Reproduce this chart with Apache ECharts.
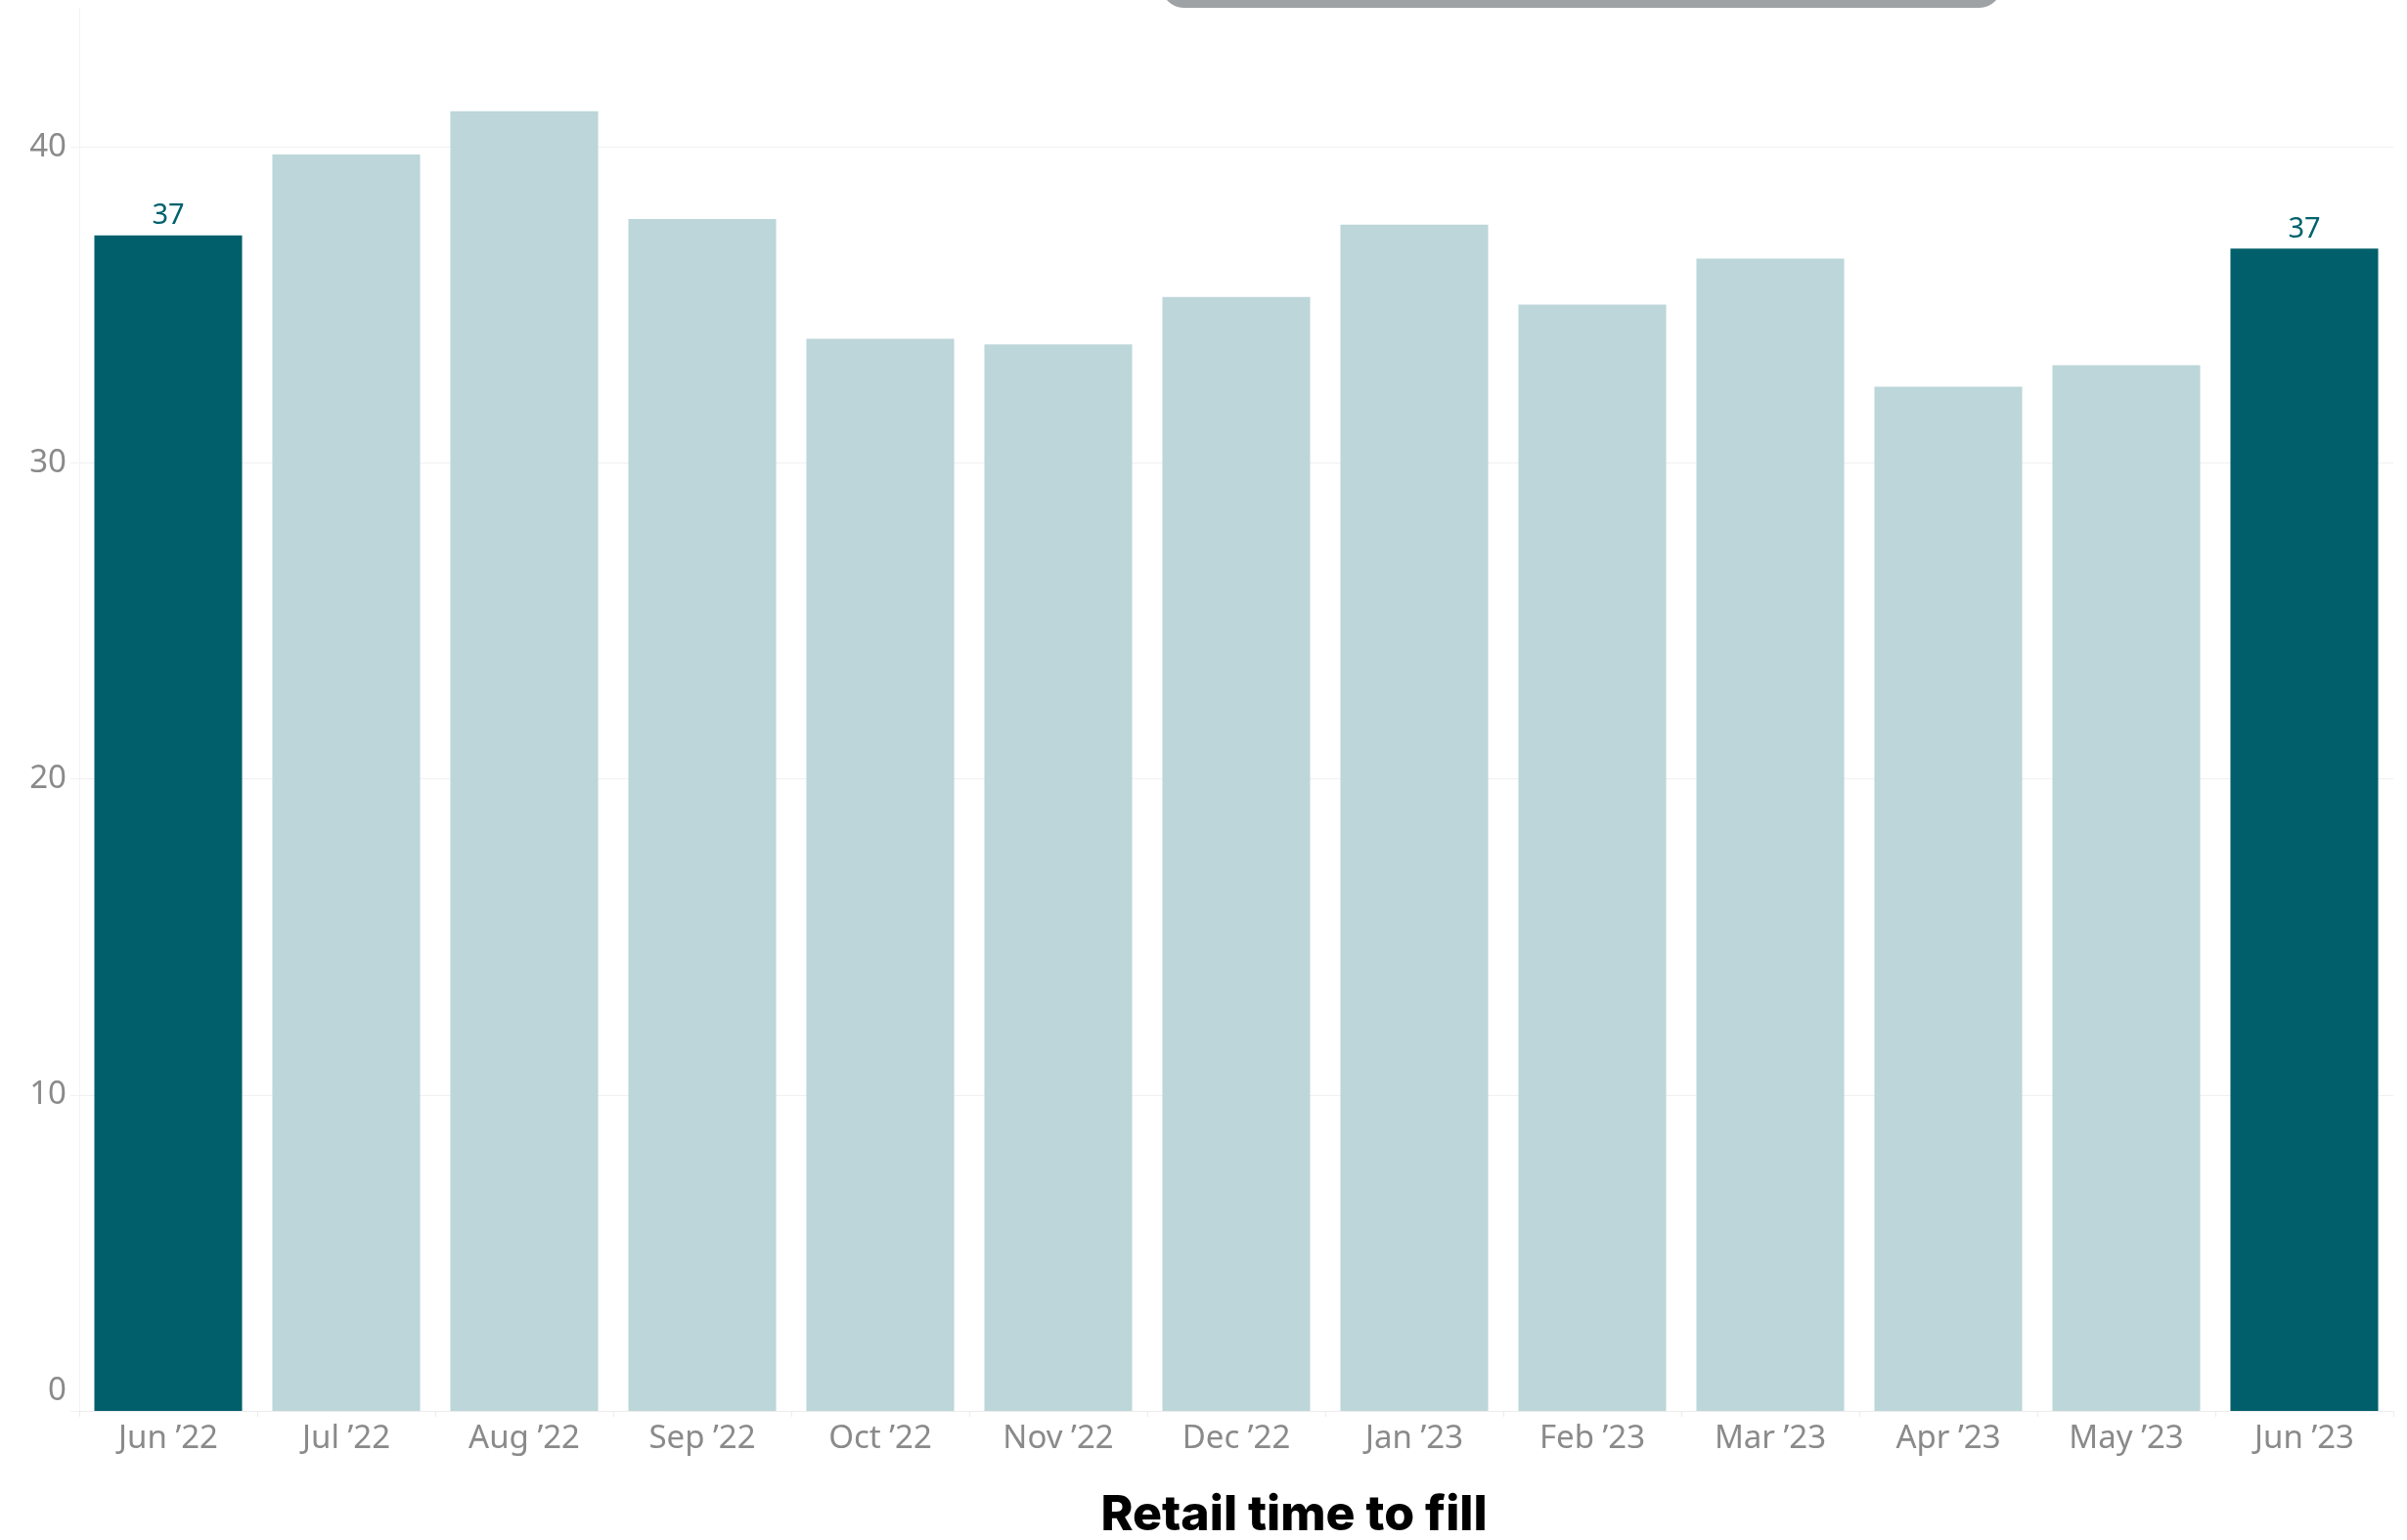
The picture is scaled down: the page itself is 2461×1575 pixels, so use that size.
<!DOCTYPE html>
<html>
<head>
<meta charset="utf-8">
<title>Retail time to fill</title>
<script src="https://cdn.jsdelivr.net/npm/echarts@6/dist/echarts.min.js"></script>
<style>
    html, body { margin: 0; padding: 0; background: #fff; }
    #chart { width: 2461px; height: 1575px; }
</style>
</head>
<body>
<div id="chart"></div>
<script>
// months on the x axis
var months = ['Jun ’22', 'Jul ’22', 'Aug ’22', 'Sep ’22', 'Oct ’22', 'Nov ’22', 'Dec ’22',
    'Jan ’23', 'Feb ’23', 'Mar ’23', 'Apr ’23', 'May ’23', 'Jun ’23'];
// days to fill a retail position
var timeToFill = [37.2, 39.76, 41.13, 37.72, 33.93, 33.75, 35.25, 37.54, 35.01, 36.46, 32.41, 33.09, 36.78];
// bars drawn dark and labelled (first and last month)
var highlighted = [true, false, false, false, false, false, false, false, false, false, false, false, true];
var yTicks = [0, 10, 20, 30, 40];

var darkColor = '#005f6b';
var lightColor = '#bcd6d9';

var barData = timeToFill.map(function (v, i) {
    return {
        value: v,
        itemStyle: { color: highlighted[i] ? darkColor : lightColor },
        label: { show: highlighted[i] }
    };
});

var option = {
    animation: false,
    backgroundColor: '#ffffff',
    grid: {
        left: 81,
        right: 14,
        top: 8,
        bottom: 132
    },
    xAxis: {
        type: 'category',
        data: months,
        axisLine: { lineStyle: { color: '#ececec', width: 1 } },
        axisTick: { show: true, length: 6, lineStyle: { color: '#ececec' } },
        axisLabel: {
            color: '#8a8a8a',
            fontFamily: 'Noto Sans',
            fontSize: 33,
            margin: 12
        }
    },
    yAxis: {
        type: 'value',
        min: 0,
        max: 44.4,
        interval: 10,
        axisLine: { show: true, lineStyle: { color: '#f2f2f2' } },
        axisTick: { show: true, length: 9, lineStyle: { color: '#f2f2f2' } },
        axisLabel: {
            color: '#8a8a8a',
            fontFamily: 'Noto Sans',
            fontSize: 33,
            margin: 13,
            showMaxLabel: false,
            formatter: function (v) {
                if (v === 0) return '{zero|0}';   // zero sits above the axis line
                return yTicks.indexOf(v) >= 0 ? String(v) : '';
            },
            rich: {
                zero: {
                    color: '#8a8a8a',
                    fontFamily: 'Noto Sans',
                    fontSize: 33,
                    padding: [0, 0, 40, 0]
                }
            }
        },
        splitLine: { show: true, showMaxLine: false, lineStyle: { color: '#f0f0f0' } }
    },
    series: [{
        type: 'bar',
        data: barData,
        barCategoryGap: '17%',
        label: {
            position: 'top',
            distance: 5,
            color: '#00616d',
            fontFamily: 'Noto Sans',
            fontSize: 29,
            formatter: function (p) { return Math.round(p.value); }
        }
    }],
    graphic: [
        {   // grey pill cut off at the top edge
            type: 'rect',
            shape: { x: 1188, y: -40, width: 858, height: 48, r: 22 },
            style: { fill: '#9fa2a5' }
        },
        {
            type: 'text',
            x: 1323,
            y: 1550,
            style: {
                text: 'Retail time to fill',
                fill: '#000',
                font: '800 50px Inter',
                align: 'center',
                verticalAlign: 'middle'
            }
        }
    ]
};

var myChart = echarts.init(document.getElementById('chart'));
myChart.setOption(option);
</script>
</body>
</html>
